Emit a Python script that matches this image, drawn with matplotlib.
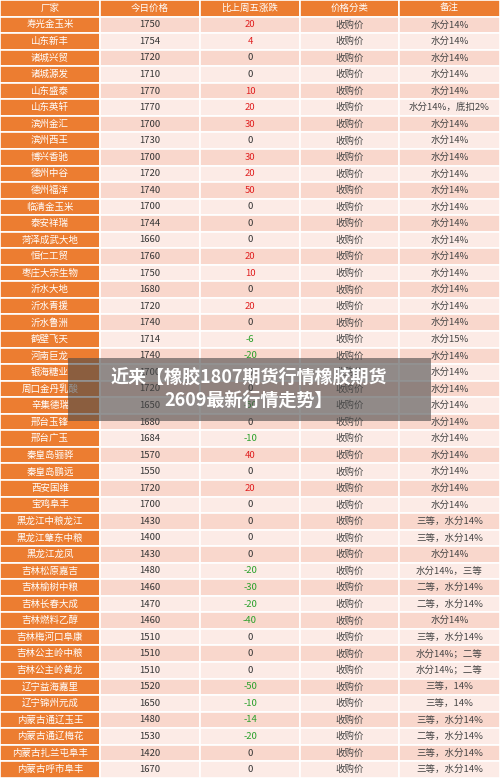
import matplotlib
matplotlib.use("Agg")
import matplotlib.pyplot as plt
from matplotlib.patches import Rectangle

plt.rcParams['font.family'] = ['Noto Sans CJK SC', 'DejaVu Sans']

headers = ["厂家", "今日价格", "比上周五涨跌", "价格分类", "备注"]
factories = ["寿光金玉米","山东新丰","诸城兴贸","诸城源发","山东盛泰","山东英轩","滨州金汇","滨州西王","博兴香驰","德州中谷","德州福洋",
             "临清金玉米","泰安祥瑞","菏泽成武大地","恒仁工贸","枣庄大宗生物","沂水大地","沂水青援","沂水鲁洲","鹤壁飞天","河南巨龙",
             "银海糖业","周口金丹乳酸","辛集德瑞","邢台玉锋","邢台广玉","秦皇岛骊骅","秦皇岛鹏远","西安国维","宝鸡阜丰",
             "黑龙江中粮龙江","黑龙江肇东中粮","黑龙江龙凤","吉林松原嘉吉","吉林榆树中粮","吉林长春大成","吉林燃料乙醇",
             "吉林梅河口阜康","吉林公主岭中粮","吉林公主岭黄龙","辽宁益海嘉里","辽宁锦州元成","内蒙古通辽玉王","内蒙古通辽梅花",
             "内蒙古扎兰屯阜丰","内蒙古呼市阜丰"]
prices = [1750,1754,1720,1710,1770,1770,1700,1730,1700,1720,1740,
          1700,1744,1660,1760,1750,1680,1720,1740,1714,1740,
          1700,1720,1650,1680,1684,1570,1550,1720,1700,
          1430,1400,1430,1480,1460,1470,1460,
          1510,1510,1510,1520,1650,1480,1530,1420,1670]
changes = [20,4,0,0,10,20,30,0,30,20,50,
           0,0,0,20,10,0,20,0,-6,-20,
           0,0,-50,0,-10,40,0,20,0,
           0,0,0,-20,-30,-20,-40,
           0,0,0,-50,-10,-14,-20,0,0]
category = "收购价"
notes = ["水分14%"]*5 + ["水分14%，底扣2%"] + ["水分14%"]*13 + ["水分15%"] + ["水分14%"]*10 + \
        ["三等，水分14%","三等，水分14%","水分14%","水分14%，三等","二等，水分14%","二等，水分14%","水分14%",
         "三等，水分14%","水分14%；二等","水分14%；二等","三等，14%","三等，14%","三等，水分14%","二等，水分14%",
         "三等，水分14%","三等，水分14%"]
title = "近来【橡胶1807期货行情橡胶期货\n2609最新行情走势】"

fig = plt.figure(figsize=(5, 7.81), dpi=100)
ax = fig.add_axes([0, 0, 1, 1])
n = len(factories)
rh = 16.55
ax.set_xlim(0, 500)
ax.set_ylim(781, 0)
ax.axis('off')
colx = [0, 100, 200, 300, 399, 500]
orange = '#ec7d31'
fs = 6.8

def cell(c, r, color):
    ax.add_patch(Rectangle((colx[c], r*rh), colx[c+1]-colx[c], rh, facecolor=color, edgecolor='white', lw=1.2))

for c, h in enumerate(headers):
    cell(c, 0, orange)
    ax.text((colx[c]+colx[c+1])/2, rh/2, h, color='white', ha='center', va='center', fontsize=fs)

for i in range(n):
    r = i + 1
    bg = '#f9d7cc' if i % 2 == 0 else '#fcebe6'
    cell(0, r, orange)
    for c in range(1, 5):
        cell(c, r, bg)
    y = r*rh + rh/2
    ax.text(50, y, factories[i], color='white', ha='center', va='center', fontsize=fs)
    ax.text(150, y, str(prices[i]), color='#333333', ha='center', va='center', fontsize=fs)
    ch = changes[i]
    cc = '#e02020' if ch > 0 else ('#2aa02a' if ch < 0 else '#333333')
    ax.text(250, y, str(ch), color=cc, ha='center', va='center', fontsize=fs)
    ax.text(349.5, y, category, color='#444444', ha='center', va='center', fontsize=fs)
    ax.text(449.5, y, notes[i], color='#444444', ha='center', va='center', fontsize=fs)

ax.add_patch(Rectangle((68, 358), 363, 63, facecolor='#4a4a4a', alpha=0.6, edgecolor='none', zorder=5))
ax.text(249, 389, title, color='white', ha='center', va='center', fontsize=13, fontweight='bold', linespacing=1.25, zorder=6)

fig.savefig('out.png', dpi=100)
